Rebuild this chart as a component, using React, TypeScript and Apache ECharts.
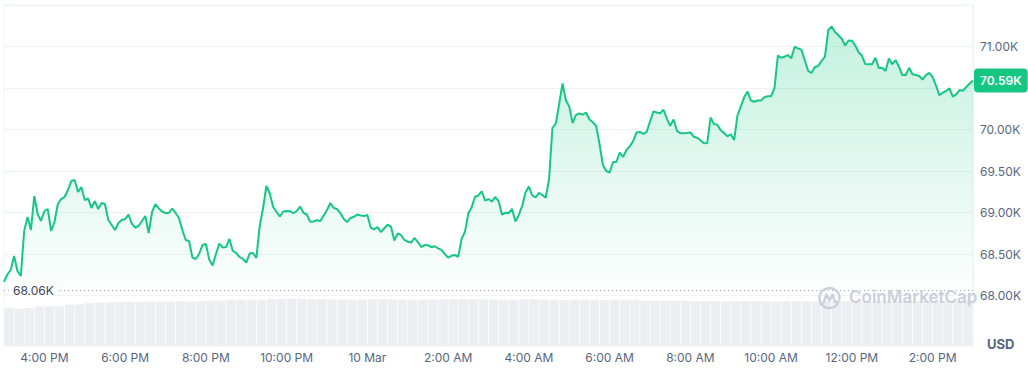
import React, { useEffect, useRef } from "react";
import * as echarts from "echarts";

// BTC price, 5-minute steps from 3:00 PM (9 Mar) to 3:00 PM (10 Mar), USD
const prices: number[] = [
  68166, 68253, 68307, 68476, 68295, 68235, 68777, 68946, 68789, 69199,
  68982, 68897, 69018, 69042, 68777, 68885, 69102, 69162, 69187, 69271,
  69379, 69391, 69247, 69307, 69150, 69169, 69054, 69138, 69042, 69114,
  69102, 68909, 68849, 68789, 68873, 68909, 68921, 68976, 68867, 68819,
  68837, 68897, 68958, 68753, 69006, 69102, 69048, 69012, 68994, 68994,
  69048, 68994, 68934, 68789, 68669, 68656, 68458, 68440, 68500, 68608,
  68620, 68434, 68361, 68500, 68626, 68578, 68584, 68681, 68536, 68512,
  68464, 68440, 68397, 68506, 68512, 68452, 68837, 69054, 69319, 69229,
  69066, 69006, 68952, 69012, 69018, 69016, 68991, 69018, 69072, 68997,
  68976, 68889, 68891, 68906, 68897, 68962, 69030, 69114, 69054, 69042,
  68990, 68921, 68885, 68934, 68948, 68976, 68964, 68958, 68970, 68819,
  68797, 68825, 68765, 68807, 68855, 68831, 68662, 68747, 68729, 68669,
  68648, 68638, 68693, 68644, 68584, 68608, 68606, 68582, 68593, 68567,
  68550, 68500, 68458, 68478, 68488, 68467, 68681, 68767, 68990, 69062,
  69190, 69205, 69256, 69143, 69162, 69132, 69187, 69138, 68976, 68997,
  68994, 69042, 68891, 68970, 69078, 69241, 69313, 69205, 69181, 69238,
  69211, 69178, 69403, 70018, 70072, 70307, 70554, 70352, 70277, 70078,
  70177, 70193, 70179, 70205, 70120, 70090, 70042, 69825, 69572, 69500,
  69482, 69608, 69608, 69723, 69669, 69753, 69797, 69861, 69964, 69970,
  69948, 69970, 70096, 70217, 70205, 70195, 70238, 70132, 70044, 70120,
  69984, 69954, 69954, 69958, 69965, 69913, 69900, 69871, 69834, 69837,
  70144, 70066, 70056, 69990, 69958, 69918, 69942, 69873, 70169, 70277,
  70391, 70458, 70349, 70335, 70349, 70349, 70389, 70400, 70402, 70500,
  70891, 70866, 70877, 70897, 70859, 70997, 70978, 70961, 70834, 70707,
  70681, 70753, 70765, 70828, 70877, 71199, 71241, 71175, 71135, 71093,
  71012, 71072, 71070, 71012, 70930, 70888, 70789, 70785, 70785, 70865,
  70741, 70744, 70705, 70856, 70787, 70836, 70756, 70656, 70656, 70743,
  70666, 70656, 70644, 70602, 70656, 70683, 70632, 70530, 70415, 70443,
  70464, 70495, 70397, 70422, 70475, 70468, 70512, 70554, 70590,
];

// 24h volume (billions USD), 15-minute bars
const volumes: number[] = [
  37.7, 36.9, 37.7, 39.0, 39.3, 39.5, 41.0, 41.2, 42.5, 42.8,
  43.3, 43.7, 43.8, 43.9, 44.0, 44.1, 44.0, 44.2, 44.1, 44.5,
  45.0, 45.1, 45.4, 45.7, 45.8, 45.7, 46.3, 46.6, 46.7, 46.6,
  46.4, 46.2, 46.0, 46.1, 45.9, 46.0, 46.2, 46.3, 46.1, 46.0,
  45.8, 45.9, 46.0, 46.1, 46.3, 46.4, 46.2, 46.0, 45.9, 45.8,
  45.9, 46.1, 46.2, 46.0, 45.7, 45.6, 45.8, 45.9, 45.7, 45.5,
  45.4, 45.3, 45.2, 45.0, 44.9, 44.8, 44.7, 44.6, 44.5, 44.4,
  44.4, 44.3, 44.4, 44.5, 44.4, 44.3, 44.2, 44.3, 44.4, 44.3,
  44.2, 44.4, 44.5, 44.4, 44.3, 44.2, 44.3, 44.4, 44.5, 44.4,
  44.3, 44.4, 44.5, 44.6, 44.5, 44.8,
];

const xTickLabels: string[] = [
  "4:00 PM", "6:00 PM", "8:00 PM", "10:00 PM", "10 Mar", "2:00 AM",
  "4:00 AM", "6:00 AM", "8:00 AM", "10:00 AM", "12:00 PM", "2:00 PM",
];
const FIRST_TICK = 12; // index of 4:00 PM (5-min steps from 3:00 PM)
const TICK_STEP = 24; // 2 hours

const lastPrice = 70590;
const openLine = 68060;

const priceCats = prices.map((_, i) => String(i));
const volCats = volumes.map((_, i) => String(i));

const GREEN = "#16c784";
const LABEL = "#58667e";
const GRIDC = "#eff2f5";
const FONT = "Inter, 'Noto Sans', sans-serif";

const fmtK = (v: number) => (v / 1000).toFixed(2) + "K";

export default function App() {
  const ref = useRef<HTMLDivElement>(null);
  useEffect(() => {
    if (!ref.current) return;
    try {
      echarts.graphic.registerShape(
        "cmclogo",
        echarts.graphic.extendPath(
          "M 19.6 16.9 A 10 10 0 1 1 21.4 12.4 M 5.5 15.5 L 8.5 7.5 L 11.5 13.5 L 14.5 7.5 L 16.5 13.5 Q 17.5 16 20.5 14.5",
          {}
        ) as any
      );
    } catch (e) {}
    const chart = echarts.init(ref.current, undefined, { renderer: "svg" });
    chart.setOption({
      animation: false,
      textStyle: { fontFamily: FONT },
      grid: [
        { left: 4, right: 55, top: 5, bottom: 77.5, show: true, borderColor: GRIDC, borderWidth: 1 },
        { left: 4, right: 55, top: 295.5, bottom: 27, show: true, borderColor: GRIDC, borderWidth: 1 },
      ],
      xAxis: [
        {
          type: "category",
          gridIndex: 0,
          data: priceCats,
          boundaryGap: false,
          axisLine: { show: false },
          axisTick: { show: false },
          splitLine: { show: false },
          axisLabel: {
            margin: 56,
            color: LABEL,
            fontSize: 12,
            fontFamily: FONT,
            interval: (idx: number) => idx >= FIRST_TICK && (idx - FIRST_TICK) % TICK_STEP === 0,
            formatter: (_v: string, idx: number) => {
              const k = (idx - FIRST_TICK) / TICK_STEP;
              return xTickLabels[k] ?? "";
            },
          },
        },
        {
          type: "category",
          gridIndex: 1,
          data: volCats,
          show: false,
        },
      ],
      yAxis: [
        {
          type: "value",
          gridIndex: 0,
          position: "right",
          min: 68000,
          max: 71500,
          interval: 500,
          axisLine: { show: true, lineStyle: { color: GRIDC } },
          axisTick: { show: false },
          splitLine: { show: true, lineStyle: { color: GRIDC, width: 1 } },
          axisLabel: {
            margin: 7,
            color: LABEL,
            fontSize: 12,
            fontFamily: FONT,
            formatter: (v: number) => (v === 71500 || v === 70500 ? "" : fmtK(v)),
          },
        },
        {
          type: "value",
          gridIndex: 1,
          min: 0,
          max: 50,
          show: false,
        },
      ],
      series: [
        {
          type: "line",
          xAxisIndex: 0,
          yAxisIndex: 0,
          data: prices,
          symbol: "none",
          smooth: false,
          lineStyle: { color: GREEN, width: 2 },
          itemStyle: { color: GREEN },
          areaStyle: {
            color: new echarts.graphic.LinearGradient(0, 0, 0, 1, [
              { offset: 0, color: "rgba(22,199,132,0.36)" },
              { offset: 1, color: "rgba(22,199,132,0.01)" },
            ]),
          },
          markLine: {
            silent: true,
            symbol: ["none", "none"],
            animation: false,
            data: [
              {
                yAxis: lastPrice,
                lineStyle: { color: "rgba(0,0,0,0)", width: 0 },
                label: {
                  show: true,
                  position: "end",
                  distance: 1,
                  formatter: () => fmtK(lastPrice),
                  color: "#ffffff",
                  fontSize: 12,
                  fontWeight: 600,
                  fontFamily: FONT,
                  backgroundColor: GREEN,
                  borderRadius: 4,
                  padding: [6, 6, 6, 6],
                  opacity: 1,
                },
              },
              {
                yAxis: openLine,
                lineStyle: { color: "#a1a7bb", width: 1, type: [1, 3] },
                label: {
                  show: true,
                  position: "insideStart",
                  distance: 6,
                  formatter: () => fmtK(openLine),
                  color: "#3d4556",
                  fontSize: 12,
                  fontFamily: FONT,
                  backgroundColor: "#ffffff",
                  padding: [1, 3, 1, 3],
                },
              },
            ],
          },
        },
        {
          type: "bar",
          xAxisIndex: 1,
          yAxisIndex: 1,
          data: volumes,
          barCategoryGap: "7%",
          itemStyle: { color: "#eceef2" },
          silent: true,
        },
      ],
      graphic: [
        {
          type: "text",
          left: 987,
          top: 337,
          style: { text: "USD", font: `bold 13px ${FONT}`, fill: LABEL },
        },
        {
          type: "cmclogo",
          x: 818,
          y: 287,
          z: 100,
          style: { fill: "none", stroke: "#c9d0db", lineWidth: 2.4, lineCap: "round", lineJoin: "round" },
        },
        {
          type: "text",
          left: 849,
          top: 288,
          z: 100,
          style: { text: "CoinMarketCap", font: `600 17px ${FONT}`, fill: "#c9d0db" },
        },
      ],
    });
    return () => chart.dispose();
  }, []);
  return (
    <div
      ref={ref}
      style={{ position: "fixed", left: 0, top: 0, width: 1028, height: 373, background: "#fff" }}
    />
  );
}
